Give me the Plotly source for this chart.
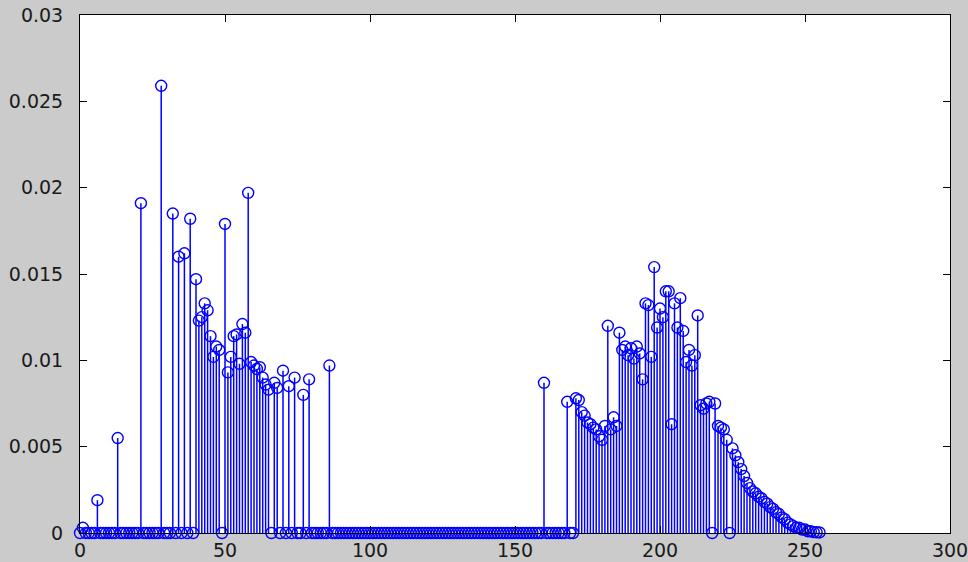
import plotly.graph_objects as go

# Histogram bins 0..255 (normalized counts); bins not listed are zero
left_bins = [1, 6, 13, 21, 28, 32, 34, 36, 38, 40, 41, 42, 43, 44, 45, 46, 47, 48,
             50, 51, 52, 53, 54, 55, 56, 57, 58, 59, 60, 61, 62, 63, 64, 65, 67, 68,
             70, 72, 74, 77, 79, 86]
left_vals = [0.0003, 0.0019, 0.0055, 0.0191, 0.0259, 0.0185, 0.0160, 0.0162, 0.0182,
             0.0147, 0.0123, 0.0125, 0.0133, 0.0129, 0.0114, 0.0102, 0.0108, 0.0106,
             0.0179, 0.0093, 0.0102, 0.0114, 0.0115, 0.0098, 0.0121, 0.0116, 0.0197,
             0.0099, 0.0097, 0.0095, 0.0096, 0.0090, 0.0086, 0.0083, 0.0087, 0.0084,
             0.0094, 0.0085, 0.0090, 0.0080, 0.0089, 0.0097]

right_bins = [160, 168, 171, 172, 173, 174, 175, 176, 177, 178, 179, 180, 181, 182,
              183, 184, 185, 186, 187, 188, 189, 190, 191, 192, 193, 194, 195, 196,
              197, 198, 199, 200, 201, 202, 203, 204, 205, 206, 207, 208, 209, 210,
              211, 212, 213, 214, 215, 216, 217, 219, 220, 221, 222, 223, 225, 226,
              227, 228, 229, 230, 231, 232, 233, 234, 235, 236, 237, 238, 239, 240,
              241, 242, 243, 244, 245, 246, 247, 248, 249, 250, 251, 252, 253, 254, 255]
right_vals = [0.0087, 0.0076, 0.0078, 0.0077, 0.0070, 0.0068, 0.0064, 0.0063, 0.0061,
              0.0060, 0.0056, 0.0054, 0.0062, 0.0120, 0.0060, 0.0067, 0.0062, 0.0116,
              0.0106, 0.0108, 0.0103, 0.0107, 0.0101, 0.0108, 0.0104, 0.0089, 0.0133,
              0.0132, 0.0102, 0.0154, 0.0119, 0.0130, 0.0125, 0.0140, 0.0140, 0.0063,
              0.0133, 0.0119, 0.0136, 0.0117, 0.0099, 0.0106, 0.0097, 0.0103, 0.0126,
              0.0074, 0.0072, 0.0075, 0.0076, 0.0075, 0.0062, 0.0061, 0.0060, 0.0054,
              0.0049, 0.0045, 0.0041, 0.0037, 0.0033, 0.0029, 0.0026, 0.0024, 0.0023,
              0.0021, 0.0020, 0.0018, 0.0017, 0.0015, 0.0014, 0.0012, 0.0011, 0.0009,
              0.0008, 0.0006, 0.0005, 0.0004, 0.0003, 0.0003, 0.0002, 0.0002, 0.0001,
              0.0001, 0.00005, 0.00004, 0.00003, 0.00002]

n_bins = 256
x_tick_vals = [0, 50, 100, 150, 200, 250, 300]
y_tick_vals = [0, 0.005, 0.01, 0.015, 0.02, 0.025, 0.03]
y_tick_text = ["0", "0.005", "0.01", "0.015", "0.02", "0.025", "0.03"]

values = [0.0] * n_bins
for b, v in zip(left_bins + right_bins, left_vals + right_vals):
    values[b] = v
bins = list(range(n_bins))

stem_x, stem_y = [], []
for b, v in zip(bins, values):
    stem_x += [b, b, None]
    stem_y += [0, v, None]

blue = "#0000ff"
fig = go.Figure()
fig.add_trace(go.Scatter(x=stem_x, y=stem_y, mode="lines",
                         line=dict(color=blue, width=1.5), hoverinfo="skip",
                         showlegend=False))
fig.add_trace(go.Scatter(x=bins, y=values, mode="markers",
                         marker=dict(symbol="circle-open", size=11, color=blue,
                                     line=dict(color=blue, width=1.4)),
                         cliponaxis=False, showlegend=False))

axis_common = dict(showgrid=False, zeroline=False, showline=True, linecolor="black",
                   linewidth=1, mirror="allticks", ticks="inside", ticklen=7,
                   tickcolor="black", ticklabeloverflow="allow",
                   tickfont=dict(family="DejaVu Sans", size=19, color="#1a1a1a"))
fig.update_xaxes(range=[0, 300], tickvals=x_tick_vals, ticklabelstandoff=0, **axis_common)
fig.update_yaxes(range=[0, 0.03], tickvals=y_tick_vals, ticktext=y_tick_text,
                 ticklabelstandoff=12, **axis_common)

fig.update_layout(width=968, height=562, paper_bgcolor="#cbcbcb", plot_bgcolor="white",
                  margin=dict(l=80, r=18, t=15, b=29, autoexpand=False))
fig.write_html("out.html", config={"displayModeBar": False})

# remove the default page margin so the figure sits at the window's corner
with open("out.html", "r", encoding="utf-8") as f:
    html = f.read()
html = html.replace("<body>", '<body style="margin:0;padding:0;overflow:hidden;">', 1)
with open("out.html", "w", encoding="utf-8") as f:
    f.write(html)
